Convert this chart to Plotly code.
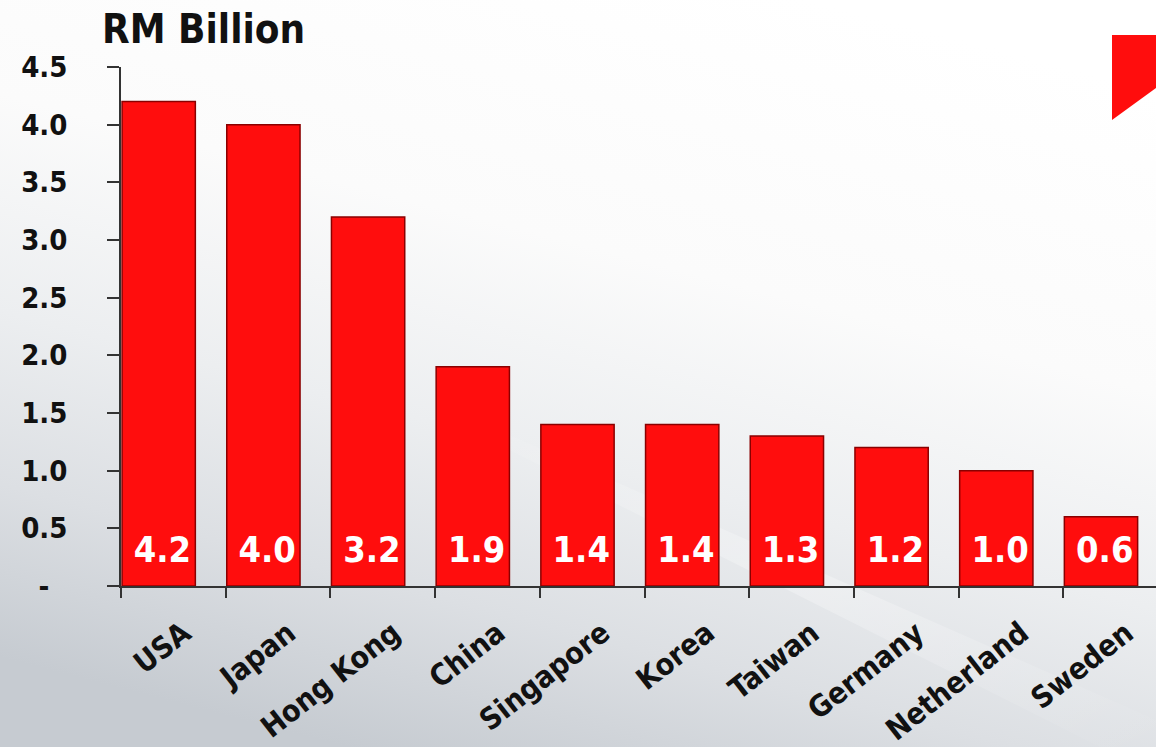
import plotly.graph_objects as go
import base64

countries = ["USA", "Japan", "Hong Kong", "China", "Singapore", "Korea",
             "Taiwan", "Germany", "Netherland", "Sweden"]
values = [4.2, 4.0, 3.2, 1.9, 1.4, 1.4, 1.3, 1.2, 1.0, 0.6]
y_ticks = [0, 0.5, 1.0, 1.5, 2.0, 2.5, 3.0, 3.5, 4.0, 4.5]
y_tick_text = ["-\u00a0\u00a0", "0.5", "1.0", "1.5", "2.0", "2.5", "3.0", "3.5", "4.0", "4.5"]

W, H = 1156, 747
FONT = "Liberation Sans Narrow, DejaVu Sans Condensed, Roboto Condensed, sans-serif"

idx = list(range(len(countries)))

svg = f'''<svg xmlns="http://www.w3.org/2000/svg" width="{W}" height="{H}">
<defs>
<linearGradient id="g" x1="0.7" y1="0" x2="0.3" y2="1">
<stop offset="0" stop-color="#ffffff"/>
<stop offset="0.35" stop-color="#fbfbfb"/>
<stop offset="0.6" stop-color="#eceef0"/>
<stop offset="0.8" stop-color="#dcdfe3"/>
<stop offset="1" stop-color="#c6cbd1"/>
</linearGradient>
<linearGradient id="s" x1="0" y1="0" x2="1" y2="1">
<stop offset="0" stop-color="#ffffff" stop-opacity="0"/>
<stop offset="0.5" stop-color="#ffffff" stop-opacity="0.3"/>
<stop offset="1" stop-color="#ffffff" stop-opacity="0"/>
</linearGradient>
</defs>
<rect width="{W}" height="{H}" fill="url(#g)"/>
<polygon points="430,400 1156,720 1156,747 1100,747 430,410" fill="url(#s)"/>
</svg>'''
src = "data:image/svg+xml;base64," + base64.b64encode(svg.encode()).decode()

fig = go.Figure()

fig.add_trace(go.Bar(
    x=idx, y=values, offset=0.01, width=0.7,
    marker=dict(color="#ff0d0d", line=dict(color="#8a0000", width=1.5)),
    hoverinfo="skip", showlegend=False,
))

fig.add_trace(go.Scatter(
    x=[i + 0.67 for i in idx], y=[0.285] * len(values),
    mode="text", text=[f"{v:.1f}" for v in values],
    textposition="middle left",
    textfont=dict(family=FONT, size=36, color="white", weight="bold"),
    hoverinfo="skip", showlegend=False,
))

plot_l = 121 / W
zero_y = (H - 586) / H
top_y = (H - 67) / H

fig.update_layout(
    template="none",
    width=W, height=H,
    margin=dict(l=0, r=0, t=0, b=0, autoexpand=False),
    paper_bgcolor="white", plot_bgcolor="rgba(0,0,0,0)",
    images=[dict(source=src, xref="paper", yref="paper", x=0, y=1,
                 sizex=1, sizey=1, xanchor="left", yanchor="top",
                 sizing="stretch", layer="below")],
    xaxis=dict(
        domain=[plot_l, 1.0], range=[0, (W - 121) / 104.7],
        automargin=False,
        tickmode="array", tickvals=[i + 0.6 for i in idx], ticktext=countries,
        tickangle=-38, ticks="", ticklen=0, ticklabelstandoff=16,
        tickfont=dict(family=FONT, size=30, color="#111111", weight="bold"),
        showgrid=False, zeroline=False,
        showline=True, linecolor="#333333", linewidth=1.5,
        minor=dict(tickvals=idx, ticks="outside", ticklen=10,
                   tickcolor="#333333", tickwidth=1.5, showgrid=False),
        fixedrange=True,
    ),
    yaxis=dict(
        domain=[zero_y, top_y], range=[0, 4.5],
        automargin=False,
        tickmode="array", tickvals=y_ticks, ticktext=y_tick_text,
        ticks="outside", ticklen=12, tickcolor="#333333", tickwidth=1.5,
        tickfont=dict(family=FONT, size=29, color="#111111", weight="bold"),
        ticklabelstandoff=34,
        showgrid=False, zeroline=False,
        showline=True, linecolor="#333333", linewidth=1.5,
        fixedrange=True,
    ),
    annotations=[dict(
        text="RM Billion", xref="paper", yref="paper",
        x=100 / W, y=1 - 4 / H, xanchor="left", yanchor="top",
        showarrow=False,
        font=dict(family=FONT, size=40, color="#111111", weight="bold"),
    )],
    shapes=[dict(
        type="path", xref="paper", yref="paper",
        path=f"M {1112/W} {1-35/H} L 1 {1-35/H} L 1 {1-88/H} L {1112/W} {1-120/H} Z",
        fillcolor="#ff0d0d", line=dict(width=0),
    )],
)

fig.write_html("out.html", config=dict(displayModeBar=False),
               post_script="document.body.style.margin='0';document.body.style.overflow='hidden';")
